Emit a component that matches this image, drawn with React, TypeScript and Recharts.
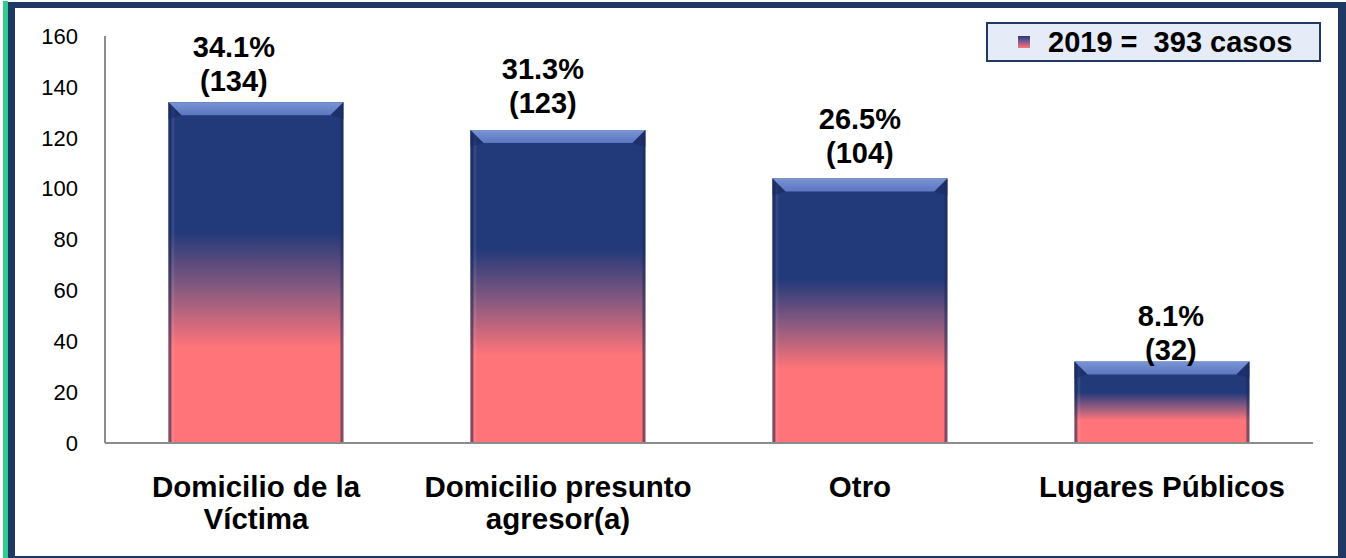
import React from "react";
import { BarChart, Bar, XAxis, YAxis, Legend, LabelList } from "recharts";

const CATEGORIES = ["Domicilio de la\nVíctima", "Domicilio presunto\nagresor(a)", "Otro", "Lugares Públicos"];
const CASOS = [134, 123, 104, 32];
const PORCENTAJES = ["34.1%", "31.3%", "26.5%", "8.1%"];
const Y_TICKS = [0, 20, 40, 60, 80, 100, 120, 140, 160];
const LEGEND_LABEL = "2019 =  393 casos";

// manual nudges of the value labels, as in the original slide
const LABEL_DX = [-22, -15, 0, 9];
const LABEL_DY = [-11, -17, -15, -2];

const NAVY = "#1f3864";
const BAR_TOP = "#22397a";
const BAR_BOTTOM = "#ff7479";
const AXIS = "#8c8c8c";
const FONT = "'Liberation Sans', Arial, sans-serif";

const data = CATEGORIES.map((c, i) => ({ name: c, casos: CASOS[i], pct: PORCENTAJES[i] }));

function BevelBar(props: any) {
  const { x, y, width, height } = props;
  if (!height || height <= 0) return null;
  const b = 13;
  return (
    <g>
      <rect x={x} y={y} width={width} height={height} fill="url(#barGrad)" />
      <rect x={x} y={y} width={3} height={height} fill="#1c2a55" opacity={0.55} />
      <rect x={x + width - 3} y={y} width={3} height={height} fill="#1c2a55" opacity={0.55} />
      <rect x={x + 3} y={y} width={3} height={height} fill="#ffffff" opacity={0.08} />
      <polygon
        points={`${x},${y} ${x + width},${y} ${x + width - b},${y + b} ${x + b},${y + b}`}
        fill="url(#bevelGrad)"
      />
      <polygon points={`${x},${y} ${x + b},${y + b} ${x},${y + b + 4}`} fill="#1a2c60" opacity={0.6} />
      <polygon
        points={`${x + width},${y} ${x + width - b},${y + b} ${x + width},${y + b + 4}`}
        fill="#1a2c60"
        opacity={0.6}
      />
    </g>
  );
}

function ValueLabel(props: any) {
  const vb = props.viewBox || {};
  const x = props.x ?? vb.x;
  const y = props.y ?? vb.y;
  const width = props.width ?? vb.width;
  const i = props.index ?? CASOS.indexOf(Number(props.value));
  const cx = x + width / 2 + (LABEL_DX[i] ?? 0);
  const base = y + (LABEL_DY[i] ?? -12);
  return (
    <text textAnchor="middle" fontFamily={FONT} fontWeight="bold" fontSize={29} fill="#000">
      <tspan x={cx} y={base - 34}>{PORCENTAJES[i]}</tspan>
      <tspan x={cx} y={base}>({CASOS[i]})</tspan>
    </text>
  );
}

function CategoryTick(props: any) {
  const { x, y, payload } = props;
  const lines = String(payload.value).split("\n");
  return (
    <text textAnchor="middle" fontFamily={FONT} fontWeight="bold" fontSize={29.5} fill="#000">
      {lines.map((l, k) => (
        <tspan key={k} x={x} y={y + 54 + k * 32}>{l}</tspan>
      ))}
    </text>
  );
}

function LegendBox() {
  return (
    <div
      style={{
        boxSizing: "border-box",
        width: 335,
        height: 40,
        background: "#e6ecf7",
        border: `2px solid ${NAVY}`,
        display: "flex",
        alignItems: "center",
        paddingLeft: 30,
        fontFamily: FONT,
        fontWeight: "bold",
        fontSize: 29,
        color: "#000",
        whiteSpace: "pre",
      }}
    >
      <span
        style={{
          display: "inline-block",
          width: 12,
          height: 12,
          marginRight: 18,
          background: `linear-gradient(${BAR_TOP}, #8a5a90, ${BAR_BOTTOM})`,
        }}
      />
      {LEGEND_LABEL}
    </div>
  );
}

export default function App() {
  return (
    <div style={{ position: "absolute", left: 0, top: 0, width: 1346, height: 558, background: "#fff" }}>
      <div style={{ position: "absolute", left: 3, top: 1, width: 5, height: 557, background: "#2ecc8e" }} />
      <div
        style={{
          position: "absolute",
          left: 8,
          top: 2,
          width: 1346 - 8,
          height: 556,
          boxSizing: "border-box",
          borderLeft: `7px solid ${NAVY}`,
          borderTop: `6px solid ${NAVY}`,
          borderRight: `8px solid ${NAVY}`,
          borderBottom: `2px solid ${NAVY}`,
        }}
      />
      <div style={{ position: "absolute", left: 0, top: 0 }}>
        <BarChart
          width={1346}
          height={558}
          data={data}
          margin={{ top: 36, right: 33, left: 0, bottom: 85 }}
          barCategoryGap="21%"
        >
          <defs>
            <linearGradient id="barGrad" x1="0" y1="0" x2="0" y2="1">
              <stop offset="0%" stopColor={BAR_TOP} />
              <stop offset="38%" stopColor={BAR_TOP} />
              <stop offset="55%" stopColor="#8a5a80" />
              <stop offset="72%" stopColor={BAR_BOTTOM} />
              <stop offset="100%" stopColor={BAR_BOTTOM} />
            </linearGradient>
            <linearGradient id="bevelGrad" x1="0" y1="0" x2="0" y2="1">
              <stop offset="0%" stopColor="#7a94d4" />
              <stop offset="100%" stopColor="#5a76bf" />
            </linearGradient>
          </defs>
          <XAxis
            dataKey="name"
            height={30}
            axisLine={{ stroke: AXIS, strokeWidth: 2 }}
            tickLine={false}
            tickSize={0}
            tickMargin={0}
            interval={0}
            tick={<CategoryTick />}
          />
          <YAxis
            width={105}
            domain={[0, 160]}
            ticks={Y_TICKS}
            axisLine={{ stroke: AXIS, strokeWidth: 2 }}
            tickLine={false}
            tickSize={0}
            tickMargin={27}
            tick={{ fill: "#000", fontSize: 22, fontFamily: FONT }}
          />
          <Legend
            layout="horizontal"
            verticalAlign="middle"
            wrapperStyle={{ top: 22, left: 986, width: 335 }}
            content={() => <LegendBox />}
          />
          <Bar dataKey="casos" shape={<BevelBar />} isAnimationActive={false}>
            <LabelList dataKey="casos" content={<ValueLabel />} />
          </Bar>
        </BarChart>
      </div>
    </div>
  );
}
